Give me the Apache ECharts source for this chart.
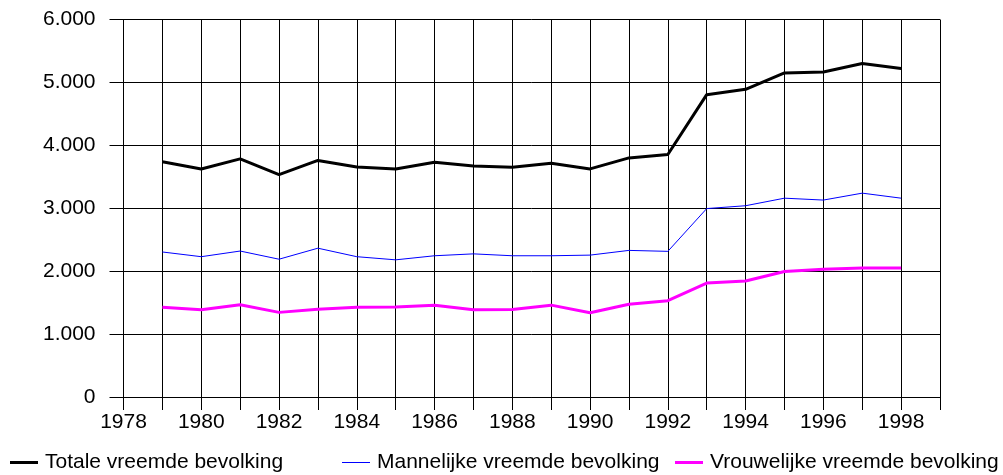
<!DOCTYPE html>
<html>
<head>
<meta charset="utf-8">
<script src="https://cdn.jsdelivr.net/npm/echarts@6/dist/echarts.min.js"></script>
<style>
  html, body { margin: 0; padding: 0; background: #fff; }
  #chart { width: 1003px; height: 475px; }
</style>
</head>
<body>
<div id="chart"></div>
<script>
const years = [1979, 1980, 1981, 1982, 1983, 1984, 1985, 1986, 1987, 1988, 1989, 1990, 1991, 1992, 1993, 1994, 1995, 1996, 1997, 1998];
const totaal = [3740, 3625, 3785, 3535, 3760, 3655, 3625, 3730, 3670, 3650, 3715, 3625, 3800, 3855, 4805, 4890, 5150, 5165, 5300, 5220];
const mannen = [2305, 2230, 2320, 2190, 2365, 2230, 2180, 2245, 2275, 2245, 2245, 2255, 2330, 2315, 2995, 3040, 3160, 3130, 3240, 3160];
const vrouwen = [1425, 1385, 1465, 1345, 1395, 1425, 1430, 1460, 1385, 1390, 1460, 1340, 1475, 1530, 1810, 1845, 1995, 2030, 2050, 2050];
const seriesNames = ['Totale vreemde bevolking', 'Mannelijke vreemde bevolking', 'Vrouwelijke vreemde bevolking'];

const font = "'Liberation Sans', Arial, sans-serif";
const pairs = vals => years.map((y, i) => [y, vals[i]]);

const chart = echarts.init(document.getElementById('chart'));

// one legend per item so each can sit where the original puts it
function legendAt(left, name, thick) {
  return {
    left: left,
    bottom: -3,
    icon: 'rect',
    itemWidth: 28,
    itemHeight: thick,
    itemGap: 0,
    data: [name],
    textStyle: { fontFamily: font, fontSize: 21, color: '#000', padding: [0, 0, 0, 2] }
  };
}

chart.setOption({
  animation: false,
  backgroundColor: '#fff',
  grid: { left: 123.5, right: 63, top: 19.5, bottom: 78 },
  legend: [
    legendAt(5, seriesNames[0], 3),
    legendAt(337, seriesNames[1], 1),
    legendAt(670, seriesNames[2], 3)
  ],
  xAxis: {
    type: 'value',
    min: 1978,
    max: 1999,
    interval: 1,
    axisLine: { show: true, lineStyle: { color: '#000', width: 1 } },
    axisTick: { show: true, length: 13, lineStyle: { color: '#000' } },
    axisLabel: {
      margin: 15,
      fontFamily: font,
      fontSize: 21,
      color: '#000',
      formatter: v => (v % 2 === 0 ? String(v) : '')
    },
    splitLine: { show: true, lineStyle: { color: '#000', width: 1 } }
  },
  yAxis: {
    type: 'value',
    min: 0,
    max: 6000,
    interval: 1000,
    axisLine: { show: true, lineStyle: { color: '#000', width: 1 } },
    axisTick: { show: true, length: 14, lineStyle: { color: '#000' } },
    axisLabel: {
      margin: 28,
      fontFamily: font,
      fontSize: 21,
      color: '#000',
      formatter: v => v.toLocaleString('de-DE')
    },
    splitLine: { show: true, lineStyle: { color: '#000', width: 1 } }
  },
  series: [
    {
      name: seriesNames[0], type: 'line', data: pairs(totaal),
      symbol: 'none', lineStyle: { color: '#000', width: 3 }, itemStyle: { color: '#000' }
    },
    {
      name: seriesNames[1], type: 'line', data: pairs(mannen),
      symbol: 'none', lineStyle: { color: '#0000ff', width: 1 }, itemStyle: { color: '#0000ff' }
    },
    {
      name: seriesNames[2], type: 'line', data: pairs(vrouwen),
      symbol: 'none', lineStyle: { color: '#ff00ff', width: 3 }, itemStyle: { color: '#ff00ff' }
    }
  ]
});
</script>
</body>
</html>
